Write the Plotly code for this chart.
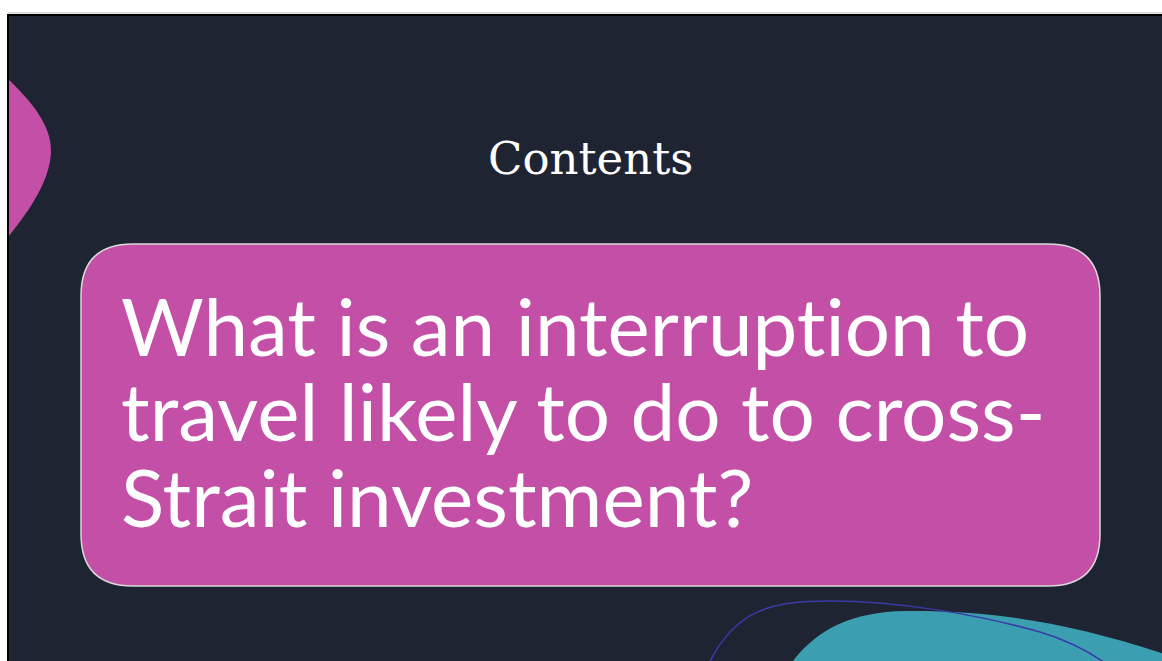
import plotly.graph_objects as go

W, H = 1162, 661

# Slide content
title_text = "Contents"
question_lines = [
    "What is an interruption to",
    "travel likely to do to cross-",
    "Strait investment?",
]
question_baselines = [355, 440, 526]

BG = "#1E2432"
PINK = "#C44FA6"
TEAL = "#3B9EB1"
BLUE = "#3A3AA8"

fig = go.Figure()

shapes = []
# slide background with black border on top/left
shapes.append(dict(type="rect", x0=8, y0=15, x1=W + 10, y1=H + 10,
                   fillcolor=BG, line=dict(color="#000000", width=2), layer="below"))
# faint gray line above the top border
shapes.append(dict(type="line", x0=8, y0=13, x1=W + 10, y1=13,
                   line=dict(color="#BDBDBD", width=1), layer="below"))

# left pink blob
shapes.append(dict(type="path",
                   path="M 9 80 C 30 100, 52 125, 51 152 C 50 180, 30 210, 9 236 Z",
                   fillcolor=PINK, line=dict(width=0), layer="below"))

# teal blob bottom right
shapes.append(dict(type="path",
                   path="M 790 665 C 815 630, 850 612, 905 611 C 990 610, 1070 622, 1170 656 L 1170 665 Z",
                   fillcolor=TEAL, line=dict(width=0), layer="below"))

# thin blue curve
shapes.append(dict(type="path",
                   path="M 708 665 C 735 610, 770 601, 830 601 C 900 601, 980 615, 1040 632 C 1070 641, 1090 652, 1108 665",
                   line=dict(color=BLUE, width=1.5), layer="below"))

# rounded pink box
x0, y0, x1, y1, r = 81, 244, 1100, 586, 52
box = (f"M {x0+r} {y0} L {x1-r} {y0} Q {x1} {y0} {x1} {y0+r} "
       f"L {x1} {y1-r} Q {x1} {y1} {x1-r} {y1} L {x0+r} {y1} "
       f"Q {x0} {y1} {x0} {y1-r} L {x0} {y0+r} Q {x0} {y0} {x0+r} {y0} Z")
shapes.append(dict(type="path", path=box, fillcolor=PINK,
                   line=dict(color="#D9D9D9", width=1.5), layer="below"))

annotations = []
annotations.append(dict(x=590, y=158, text=title_text, showarrow=False,
                        xanchor="center", yanchor="middle",
                        font=dict(family="DejaVu Serif", size=45, color="#FFFFFF")))
FS = 80
for line, base in zip(question_lines, question_baselines):
    # zero-width non-joiner between t and i avoids the Lato "ti" ligature
    shown = line.replace("ti", "t\u200ci")
    annotations.append(dict(x=119, y=base - 0.37 * FS, text=shown, showarrow=False,
                            xanchor="left", yanchor="middle",
                            font=dict(family="Lato", size=FS, color="#FFFFFF")))

fig.update_layout(
    width=W, height=H,
    margin=dict(l=0, r=0, t=0, b=0),
    paper_bgcolor="#FFFFFF", plot_bgcolor="#FFFFFF",
    xaxis=dict(range=[0, W], visible=False, fixedrange=True),
    yaxis=dict(range=[H, 0], visible=False, fixedrange=True),
    shapes=shapes, annotations=annotations, showlegend=False,
)
fig.write_html("out.html", config={"displayModeBar": False},
               post_script="document.body.style.margin='0';document.body.style.overflow='hidden';")
